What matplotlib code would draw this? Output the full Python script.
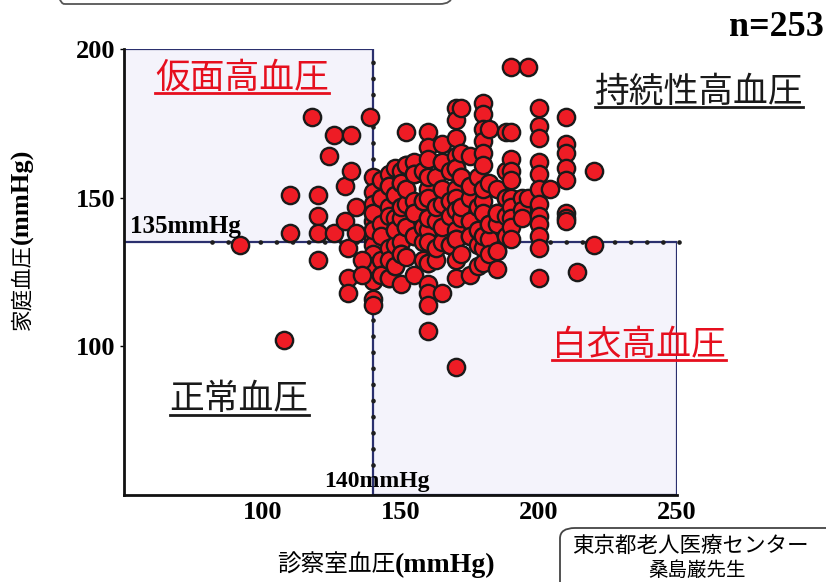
import numpy as np
import matplotlib.pyplot as plt
from matplotlib.patches import Rectangle, FancyBboxPatch
from matplotlib.lines import Line2D

plt.rcParams['font.family'] = ['Noto Sans CJK JP', 'DejaVu Sans']
SERIF = ['Liberation Serif', 'Noto Sans CJK JP']

# 診察室血圧 columns and the 家庭血圧 readings stacked in each
office_cols = [140, 143, 146, 148, 150, 152, 155, 158, 160, 163, 165, 168, 170, 172,
               175, 178, 180, 182, 185, 188, 190, 194, 196, 200, 204, 210, 214, 220]
home_cols = [
    [157, 152, 148, 145, 142, 139, 136, 134, 131, 127, 126, 122, 116, 114, 139, 145],
    [156, 150, 141, 137, 129, 124, 124, 150],
    [158, 154, 147, 144, 133, 129, 123, 123, 154],
    [160, 151, 143, 139, 134, 127, 127, 139, 151],
    [159, 155, 147, 143, 135, 131, 121, 147, 155, 131],
    [172, 161, 153, 148, 140, 130, 140, 153, 161],
    [162, 158, 149, 145, 137, 124, 145, 158, 137],
    [159, 149, 140, 135, 129, 149, 140],
    [172, 167, 163, 157, 153, 150, 143, 139, 135, 128, 121, 118, 114, 105, 157, 143, 128],
    [157, 147, 142, 133, 129, 147, 133],
    [168, 162, 153, 148, 140, 135, 118, 153, 140, 162],
    [159, 149, 144, 134, 149, 134],
    [180, 176, 170, 164, 160, 153, 150, 146, 139, 136, 129, 123, 93, 160, 146, 136],
    [180, 165, 157, 147, 143, 131, 157, 147],
    [164, 154, 150, 142, 137, 124, 154, 142, 137],
    [157, 147, 139, 134, 127, 147, 139],
    [182, 178, 173, 169, 165, 161, 153, 149, 145, 137, 133, 128, 153, 137],
    [173, 155, 141, 136, 131, 141],
    [153, 145, 141, 132, 126, 145, 132],
    [172, 159, 150, 144, 137, 150],
    [194, 172, 163, 159, 156, 150, 147, 143, 140, 136],
    [150, 146, 143],
    [194, 150],
    [180, 174, 170, 162, 158, 153, 148, 144, 141, 137, 133, 123],
    [153],
    [177, 168, 165, 160, 156, 145, 143, 142],
    [125],
    [159, 134],
]

# readings away from the columns
extra_office = [92, 108, 110, 110, 118, 120, 120, 120, 120, 124, 126, 126,
                130, 130, 132, 132, 131, 131, 131, 134, 134, 136, 136, 139]
extra_home = [134, 102, 151, 138, 177, 151, 144, 138, 129, 164, 171, 138,
              154, 142, 171, 159, 133, 123, 118, 147, 138, 129, 124, 177]

x_ticks = [100, 150, 200, 250]
y_ticks = [100, 150, 200]

office = np.concatenate([[c] * len(v) for c, v in zip(office_cols, home_cols)] + [extra_office])
home = np.concatenate(home_cols + [extra_home])

fig = plt.figure(figsize=(8.26, 5.82), dpi=100)
ax = fig.add_axes([124 / 826, 1 - 495 / 582, 553 / 826, 446 / 582])
ax.set_xlim(50, 250)
ax.set_ylim(50, 200)

navy = '#2b306e'
tint = '#f4f3fb'
ax.add_patch(Rectangle((50, 135), 90, 65, facecolor=tint, edgecolor=navy, lw=1.6, zorder=1))
ax.add_patch(Rectangle((140, 50), 110, 85, facecolor=tint, edgecolor=navy, lw=1.6, zorder=1))

# dotted cut-off lines
dot = dict(color='#1e1e1e', lw=3.4, ls=(0, (0.01, 3.4)), dash_capstyle='round',
           clip_on=False, zorder=2)
ax.plot([82, 255], [135, 135], **dot)
ax.plot([140, 140], [60, 200], **dot)

ax.scatter(office, home, s=155, color='#ee1c25', edgecolor='#1a1a1a', lw=1.7, zorder=3)

for s in ['top', 'right']:
    ax.spines[s].set_visible(False)
for s in ['left', 'bottom']:
    ax.spines[s].set_linewidth(2)
    ax.spines[s].set_color('#111111')
    ax.spines[s].set_zorder(4)

ax.set_xticks(x_ticks)
ax.set_yticks(y_ticks)
ax.tick_params(axis='x', length=0, pad=4)
ax.tick_params(axis='y', length=3, width=1, pad=3)
for lab in ax.get_xticklabels() + ax.get_yticklabels():
    lab.set_family(SERIF)
    lab.set_weight('bold')
    lab.set_fontsize(19)

ax.text(52, 136.3, '135mmHg', family=SERIF, weight='bold', fontsize=18, va='bottom', zorder=5)
ax.text(141.5, 52.8, '140mmHg', family=SERIF, weight='bold', fontsize=17, ha='center',
        va='baseline', zorder=5)

# axis titles: Japanese part in gothic, unit in bold serif
fig.text(22 / 826, 1 - 244 / 582, '家庭血圧', fontsize=15.5, rotation=90,
         ha='center', va='top')
fig.text(22 / 826, 1 - 244 / 582, '(mmHg)', family=SERIF, weight='bold', fontsize=19,
         rotation=90, ha='center', va='bottom')
fig.text(395 / 826, 1 - 565 / 582, '診察室血圧', fontsize=17, ha='right', va='center')
fig.text(395 / 826, 1 - 565 / 582, '(mmHg)', family=SERIF, weight='bold', fontsize=20,
         ha='left', va='center')
fig.text(824 / 826, 1 - 28 / 582, 'n=253', family=SERIF, weight='bold', fontsize=26,
         ha='right', va='center')

red = '#e60f1e'
quad = [
    ('仮面高血圧', 242, 78, red),
    ('持続性高血圧', 699, 92, '#1a1a1a'),
    ('白衣高血圧', 639, 345, red),
    ('正常血圧', 239, 400, '#1a1a1a'),
]
quad_texts = [fig.text(px / 826, 1 - py / 582, t, fontsize=25, color=c, ha='center', va='center')
              for t, px, py, c in quad]

# rounded boxes at the top and bottom right
fig.add_artist(FancyBboxPatch((52 / 826, 1 - 4 / 582), 400 / 826, 0.2,
                              boxstyle='round,pad=0,rounding_size=0.015',
                              transform=fig.transFigure, facecolor='none',
                              edgecolor='#555555', lw=1.3, clip_on=False))
fig.add_artist(FancyBboxPatch((560 / 826, -0.2), 0.5, 0.2 + 1 - 528 / 582,
                              boxstyle='round,pad=0,rounding_size=0.018',
                              transform=fig.transFigure, facecolor='none',
                              edgecolor='#444444', lw=1.3, clip_on=False))
fig.text(572 / 826, 1 - 546 / 582, '東京都老人医療センター', fontsize=15.5, ha='left', va='center')
fig.text(697 / 826, 1 - 570 / 582, '桑島巌先生', fontsize=14, ha='center', va='center')

# underline the quadrant names
fig.canvas.draw()
r = fig.canvas.get_renderer()
inv = fig.transFigure.inverted()
for t in quad_texts:
    bb = t.get_window_extent(r)
    (x0, y0), (x1, _) = inv.transform([[bb.x0, bb.y0 + 3], [bb.x1, bb.y0 + 3]])
    fig.add_artist(Line2D([x0, x1], [y0, y0], transform=fig.transFigure,
                          color=t.get_color(), lw=2))

fig.savefig('out.png', dpi=100)
